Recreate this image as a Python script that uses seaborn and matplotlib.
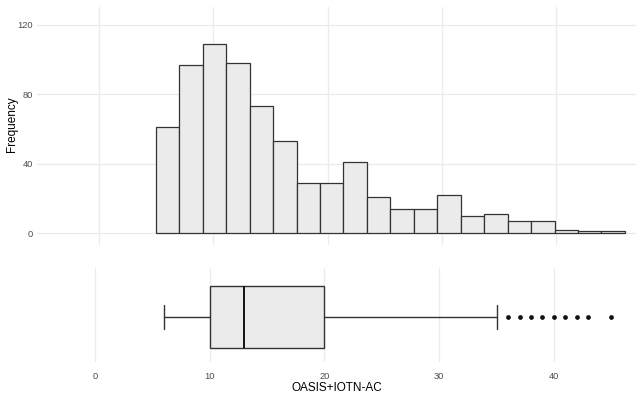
import numpy as np
import pandas as pd
import matplotlib
matplotlib.use("Agg")
import matplotlib.pyplot as plt
import seaborn as sns

# Histogram counts (20 bins, centred on 6 ... 45)
counts = [61, 97, 109, 98, 73, 53, 29, 29, 41, 21, 14, 14, 22, 10, 11, 7, 7, 2, 1, 1]
first_center = 6
last_center = 45

# Boxplot summary of the same score
box_low = 6
box_q1 = 10
box_median = 13
box_q3 = 20
box_high = 35
outliers = [36, 37, 38, 39, 40, 41, 42, 43, 45]

x_ticks = [0, 10, 20, 30, 40]
y_ticks = [0, 40, 80, 120]

sns.set_theme(style="whitegrid")
plt.rcParams["font.family"] = ["Liberation Sans", "DejaVu Sans"]

grid_col = "#ebebeb"
fill_col = "#ebebeb"
edge_col = "#333333"
tick_col = "#4d4d4d"

fig = plt.figure(figsize=(6.36, 3.94), dpi=100)
W, H = 636, 394
ax_hist = fig.add_axes([37 / W, 1 - 245 / H, (636 - 37) / W, (245 - 7) / H])
ax_box = fig.add_axes([37 / W, 1 - 362 / H, (636 - 37) / W, (362 - 268) / H])

# histogram
n_bins = len(counts)
width = (last_center - first_center) / (n_bins - 1)
centers = first_center + width * np.arange(n_bins)
edges = list(np.append(centers - width / 2, centers[-1] + width / 2))
df = pd.DataFrame({"score": centers, "count": counts})
sns.histplot(data=df, x="score", weights="count", bins=edges, ax=ax_hist,
             color=fill_col, edgecolor=edge_col, linewidth=0.9, alpha=1)
ax_hist.set_xlim(-5.43, 47.0)
ax_hist.set_ylim(-6.9, 130.1)
ax_hist.set_xticks(x_ticks)
ax_hist.set_yticks(y_ticks)
ax_hist.set_xticklabels([])
ax_hist.set_xlabel("")
ax_hist.set_ylabel("Frequency", fontsize=8.5, color="black")
ax_hist.yaxis.set_label_coords(-0.031, 0.508)
ax_hist.tick_params(axis="y", labelsize=6.7, labelcolor=tick_col, length=0, pad=3)
ax_hist.tick_params(axis="x", length=0)

# boxplot
stats = [dict(whislo=box_low, q1=box_q1, med=box_median, q3=box_q3,
              whishi=box_high, fliers=outliers)]
ax_box.bxp(stats, positions=[0], widths=1, orientation="horizontal", patch_artist=True,
           boxprops=dict(facecolor=fill_col, edgecolor=edge_col, linewidth=1.0),
           medianprops=dict(color="#111111", linewidth=1.4),
           whiskerprops=dict(color=edge_col, linewidth=1.0),
           capprops=dict(color=edge_col, linewidth=1.0),
           capwidths=0.4,
           flierprops=dict(marker="o", markersize=2.4, markerfacecolor="#111111",
                           markeredgecolor="#111111"))
ax_box.set_xlim(-5.05, 47.15)
ax_box.set_ylim(-0.726, 0.79)
ax_box.set_xticks(x_ticks)
ax_box.set_xticklabels([str(t) for t in x_ticks])
ax_box.set_yticks([])
ax_box.set_xlabel("OASIS+IOTN-AC", fontsize=8.5, color="black", labelpad=1)
ax_box.tick_params(axis="x", labelsize=6.7, labelcolor=tick_col, length=0, pad=7)

for ax in (ax_hist, ax_box):
    ax.set_facecolor("white")
    for s in ax.spines.values():
        s.set_visible(False)
    ax.grid(color=grid_col, linewidth=0.9)
    ax.set_axisbelow(True)
ax_box.grid(axis="y", visible=False)

fig.savefig("out.png", dpi=100)
